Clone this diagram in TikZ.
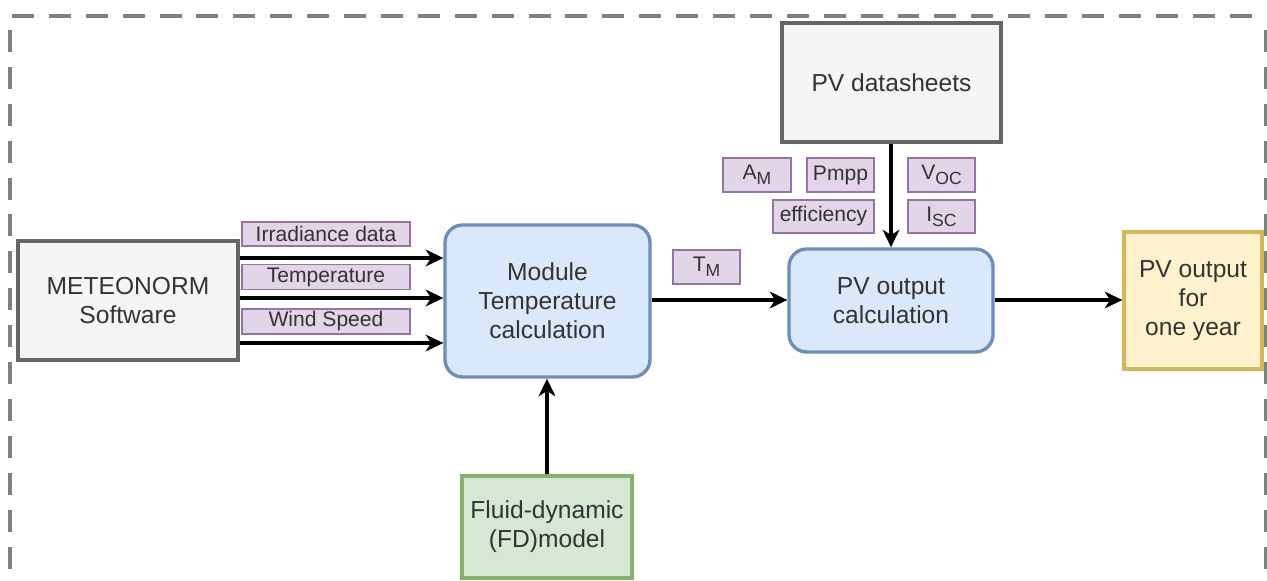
\documentclass[tikz,border=0pt]{standalone}
\usepackage{fontspec}
\setmainfont{Liberation Sans}
\usetikzlibrary{arrows.meta}
\definecolor{txt}{HTML}{333333}
\definecolor{grayfill}{HTML}{F5F5F5}
\definecolor{graydraw}{HTML}{666666}
\definecolor{bluefill}{HTML}{DAE8FC}
\definecolor{bluedraw}{HTML}{6C8EBF}
\definecolor{purfill}{HTML}{E1D5E7}
\definecolor{purdraw}{HTML}{9673A6}
\definecolor{greenfill}{HTML}{D5E8D4}
\definecolor{greendraw}{HTML}{82B366}
\definecolor{yelfill}{HTML}{FFF2CC}
\definecolor{yeldraw}{HTML}{D6B656}
\definecolor{border}{HTML}{808080}
\newcommand{\bigtxt}{\fontsize{14}{16.5}\selectfont}
\newcommand{\lbltxt}{\fontsize{12}{14}\selectfont}
\newcommand{\subs}[1]{\raisebox{-0.45ex}{\fontsize{10}{10}\selectfont #1}}
\tikzset{
  box/.style={draw, inner sep=0pt, align=center, text=txt, font=\bigtxt},
  graybox/.style={box, fill=grayfill, draw=graydraw, line width=2.5pt},
  bluebox/.style={box, fill=bluefill, draw=bluedraw, line width=1.9pt, rounded corners=10pt},
  greenbox/.style={box, fill=greenfill, draw=greendraw, line width=1.9pt},
  yelbox/.style={box, fill=yelfill, draw=yeldraw, line width=1.9pt},
  tag/.style={draw=purdraw, fill=purfill, line width=0.6pt, inner sep=0pt, align=center, text=txt, font=\lbltxt},
  conn/.style={line width=2.1pt, -{Stealth[length=10pt, width=9.5pt, inset=3pt]}},
  frame/.style={draw=border, line width=2.8pt, dash pattern=on 12.5pt off 8.5pt}
}
\begin{document}
\begin{tikzpicture}[x=0.02cm, y=-0.02cm]
\useasboundingbox (0,0) rectangle (1267,581);
\clip (0,0) rectangle (1267,581);
% dashed frame
\draw[frame] (12,16) -- (1266,16);
\draw[frame] (10,30) -- (10,600);
\draw[frame] (1266,30) -- (1266,600);

% main boxes
\node[graybox, minimum width=220*0.02cm, minimum height=119*0.02cm] (meteo) at (128,300.5) {METEONORM\\Software};
\node[bluebox, minimum width=205*0.02cm, minimum height=152*0.02cm] (module) at (547.5,301) {Module\\Temperature\\calculation};
\node[bluebox, minimum width=204*0.02cm, minimum height=103*0.02cm] (pvout) at (891,300.5) {PV output\\calculation};
\node[graybox, minimum width=219*0.02cm, minimum height=119*0.02cm] (ds) at (891.5,82.5) {PV datasheets};
\node[yelbox, minimum width=138*0.02cm, minimum height=137*0.02cm] (year) at (1193,300.5) {PV output\\for\\one year};
\node[greenbox, minimum width=170*0.02cm, minimum height=102*0.02cm] (fd) at (547,527) {Fluid-dynamic\\(FD)model};

% tags
\node[tag, minimum width=168*0.02cm, minimum height=24*0.02cm] (irr) at (326,234) {Irradiance data};
\node[tag, minimum width=168*0.02cm, minimum height=25*0.02cm] (temp) at (326,277) {Temperature};
\node[tag, minimum width=168*0.02cm, minimum height=25*0.02cm] (wind) at (326,321.5) {Wind Speed};
\node[tag, minimum width=67*0.02cm, minimum height=34*0.02cm] (tm) at (706.5,267) {T\subs{M}};
\node[tag, minimum width=68*0.02cm, minimum height=34*0.02cm] (am) at (757,175) {A\subs{M}};
\node[tag, minimum width=67*0.02cm, minimum height=34*0.02cm] (pmpp) at (840.5,175) {Pmpp};
\node[tag, minimum width=67*0.02cm, minimum height=34*0.02cm] (voc) at (941.5,175) {V\subs{OC}};
\node[tag, minimum width=101*0.02cm, minimum height=33*0.02cm] (eff) at (823.5,216.5) {efficiency};
\node[tag, minimum width=67*0.02cm, minimum height=33*0.02cm] (isc) at (941.5,216.5) {I\subs{SC}};

% connectors
\draw[conn] (meteo.east |- 0,258) -- (module.west |- 0,258);
\draw[conn] (meteo.east |- 0,298) -- (module.west |- 0,298);
\draw[conn] (meteo.east |- 0,343) -- (module.west |- 0,343);
\draw[conn] (module.east |- 0,300) -- (pvout.west |- 0,300);
\draw[conn] (ds.south -| 891,0) -- (pvout.north -| 891,0);
\draw[conn] (pvout.east |- 0,300) -- (year.west |- 0,300);
\draw[conn] (fd.north) -- (module.south -| fd.north);
\end{tikzpicture}
\end{document}
